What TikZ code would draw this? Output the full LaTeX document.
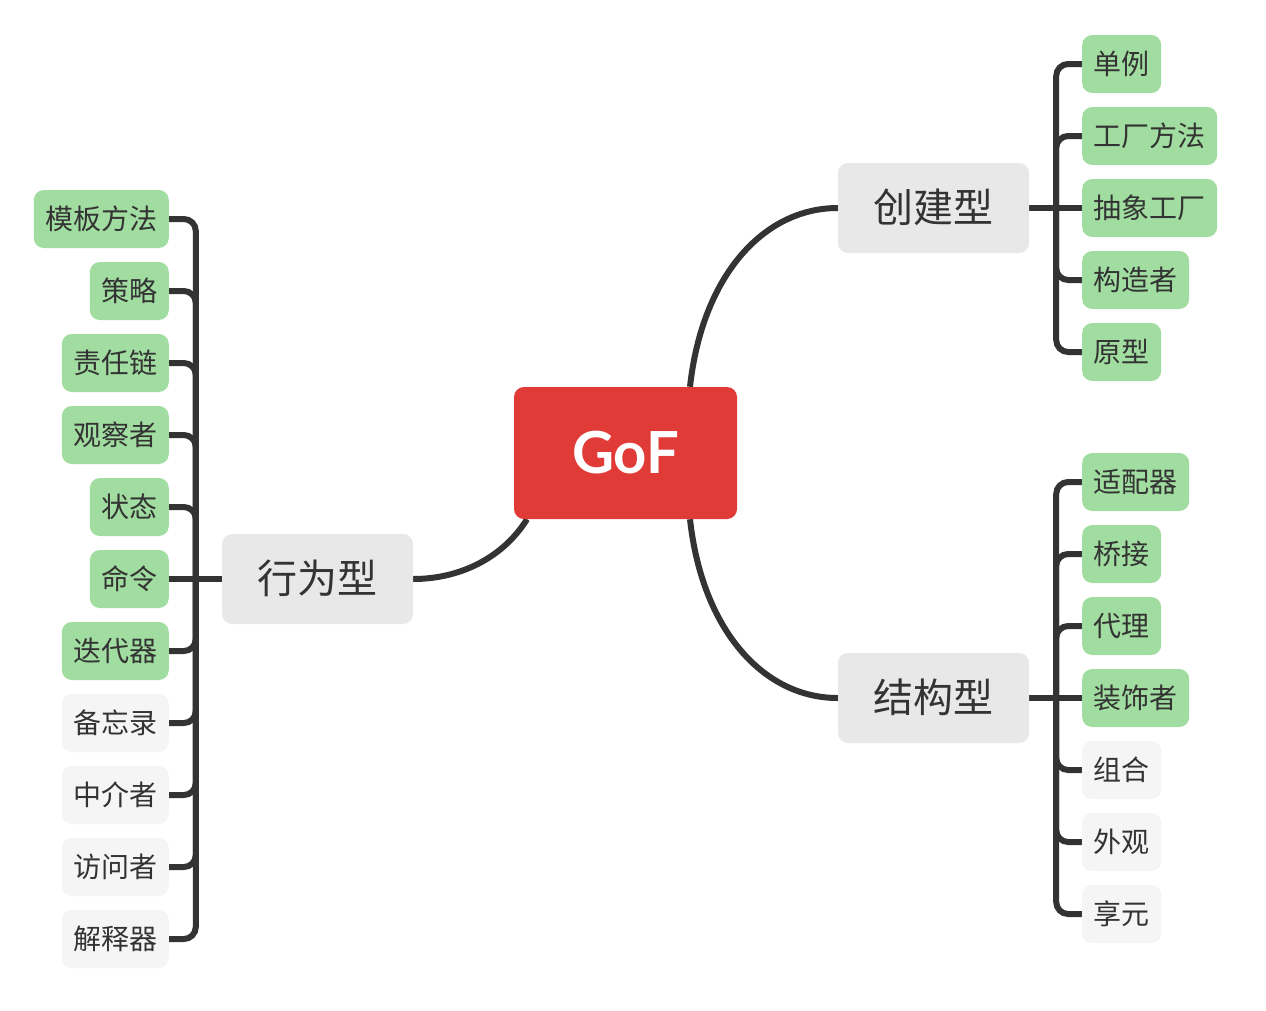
\documentclass[tikz,border=0pt]{standalone}
\usepackage{fontspec}
\newfontfamily\cjk{Noto Sans CJK SC}
\newfontfamily\gof{Lato}
\usetikzlibrary{calc}
\definecolor{ink}{HTML}{333333}
\definecolor{gofred}{HTML}{E13B38}
\definecolor{branchgray}{HTML}{E8E8E8}
\definecolor{leafgreen}{HTML}{A1DDA0}
\definecolor{leafgray}{HTML}{F5F5F5}
\pgfdeclarelayer{bg}
\pgfdeclarelayer{paper}
\pgfsetlayers{paper,bg,main}
\tikzset{
  root/.style={fill=gofred, rounded corners=10pt, minimum width=223pt, minimum height=132pt, inner sep=0pt, text=white, font=\gof\bfseries\fontsize{58}{58}\selectfont},
  branch/.style={fill=branchgray, rounded corners=10pt, minimum width=191pt, minimum height=90pt, inner sep=0pt, text=ink, font=\cjk\fontsize{40}{40}\selectfont, text height=34pt, text depth=6pt},
  leaf/.style={rounded corners=10pt, minimum height=58pt, inner xsep=11.5pt, inner ysep=0pt, text=ink, font=\cjk\fontsize{28}{28}\selectfont, text height=24pt, text depth=4pt},
  gl/.style={leaf, fill=leafgreen},
  wl/.style={leaf, fill=leafgray},
  conn/.style={draw=ink, line width=6pt},
}
\begin{document}
\begin{tikzpicture}[x=1pt,y=-1pt]
\begin{pgfonlayer}{paper}
\fill[white] (0,0) rectangle (1266,1010);
\end{pgfonlayer}
\useasboundingbox (0,0) rectangle (1266,1010);
\node[root] (gof) at (625.5,453) {GoF};
\node[branch] (cre) at (933.5,208) {创建型};
\node[branch] (str) at (933.5,698) {结构型};
\node[branch] (beh) at (317.5,579) {行为型};
% creational leaves
\node[gl, anchor=west] (c1) at (1082,64) {单例};
\node[gl, anchor=west] (c2) at (1082,136) {工厂方法};
\node[gl, anchor=west] (c3) at (1082,208) {抽象工厂};
\node[gl, anchor=west] (c4) at (1082,280) {构造者};
\node[gl, anchor=west] (c5) at (1082,352) {原型};
% structural leaves
\node[gl, anchor=west] (s1) at (1082,482) {适配器};
\node[gl, anchor=west] (s2) at (1082,554) {桥接};
\node[gl, anchor=west] (s3) at (1082,626) {代理};
\node[gl, anchor=west] (s4) at (1082,698) {装饰者};
\node[wl, anchor=west] (s5) at (1082,770) {组合};
\node[wl, anchor=west] (s6) at (1082,842) {外观};
\node[wl, anchor=west] (s7) at (1082,914) {享元};
% behavioral leaves
\node[gl, anchor=east] (b1) at (169,219) {模板方法};
\node[gl, anchor=east] (b2) at (169,291) {策略};
\node[gl, anchor=east] (b3) at (169,363) {责任链};
\node[gl, anchor=east] (b4) at (169,435) {观察者};
\node[gl, anchor=east] (b5) at (169,507) {状态};
\node[gl, anchor=east] (b6) at (169,579) {命令};
\node[gl, anchor=east] (b7) at (169,651) {迭代器};
\node[wl, anchor=east] (b8) at (169,723) {备忘录};
\node[wl, anchor=east] (b9) at (169,795) {中介者};
\node[wl, anchor=east] (b10) at (169,867) {访问者};
\node[wl, anchor=east] (b11) at (169,939) {解释器};
\begin{pgfonlayer}{bg}
\draw[conn] ([xshift=64.5pt]gof.north) .. controls +(12,-110) and +(-75,0) .. (cre.west);
\draw[conn] ([xshift=64.5pt]gof.south) .. controls +(12,110) and +(-75,0) .. (str.west);
\draw[conn] ([xshift=-98.5pt]gof.south) .. controls +(-25,40) and +(45,0) .. (beh.east);
\draw[conn] (cre.east) -- (c3.west);
\draw[conn] (str.east) -- (s4.west);
\draw[conn] (beh.west) -- (b6.east);
\foreach \n in {c1,c2,c4,c5}
  \draw[conn, rounded corners=12pt] (\n.west) -| ([xshift=27pt]cre.east);
\foreach \n in {s1,s2,s3,s5,s6,s7}
  \draw[conn, rounded corners=12pt] (\n.west) -| ([xshift=27pt]str.east);
\foreach \n in {b1,b2,b3,b4,b5,b7,b8,b9,b10,b11}
  \draw[conn, rounded corners=12pt] (\n.east) -| ([xshift=-26pt]beh.west);
\end{pgfonlayer}
\end{tikzpicture}
\end{document}
